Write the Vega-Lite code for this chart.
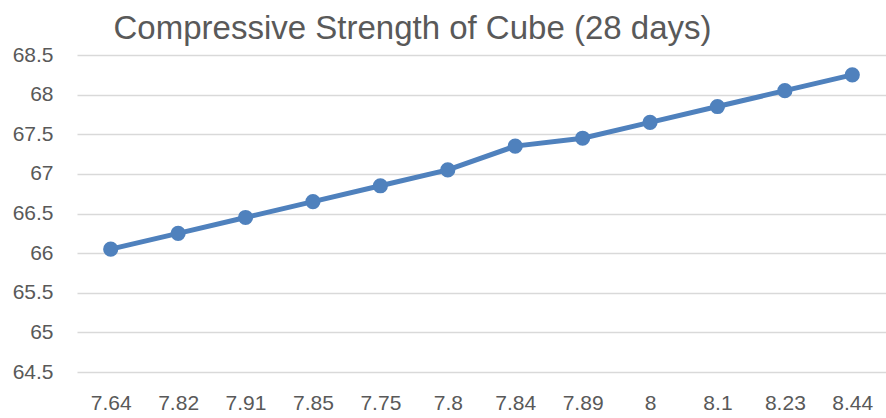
{
  "$schema": "https://vega.github.io/schema/vega-lite/v6.json",
  "autosize": "none",
  "width": 809,
  "height": 317,
  "padding": {"left": 77, "top": 55, "right": 0, "bottom": 46},
  "background": "white",
  "title": {
    "text": "Compressive Strength of Cube (28 days)",
    "font": "Liberation Sans",
    "fontSize": 33,
    "fontWeight": "normal",
    "color": "#595959",
    "anchor": "middle",
    "frame": "group",
    "dx": -69,
    "offset": -2
  },
  "config": {
    "view": {"stroke": null},
    "axis": {
      "labelFont": "Liberation Sans",
      "labelFontSize": 21,
      "labelColor": "#595959",
      "domain": false,
      "ticks": false,
      "title": null
    }
  },
  "data": {
    "values": [
      {"x": "7.64", "y": 66.05},
      {"x": "7.82", "y": 66.25},
      {"x": "7.91", "y": 66.45},
      {"x": "7.85", "y": 66.65},
      {"x": "7.75", "y": 66.85},
      {"x": "7.8", "y": 67.05},
      {"x": "7.84", "y": 67.35},
      {"x": "7.89", "y": 67.45},
      {"x": "8", "y": 67.65},
      {"x": "8.1", "y": 67.85},
      {"x": "8.23", "y": 68.05},
      {"x": "8.44", "y": 68.25}
    ]
  },
  "encoding": {
    "x": {
      "field": "x",
      "type": "ordinal",
      "sort": null,
      "scale": {"type": "point", "padding": 0.5},
      "axis": {"labelAngle": 0, "labelPadding": 20, "grid": false}
    },
    "y": {
      "field": "y",
      "type": "quantitative",
      "scale": {"domain": [64.5, 68.5], "zero": false, "nice": false},
      "axis": {
        "values": [64.5, 65, 65.5, 66, 66.5, 67, 67.5, 68, 68.5],
        "format": "~g",
        "grid": true,
        "gridColor": "#d9d9d9",
        "gridWidth": 1.5,
        "labelPadding": 24
      }
    }
  },
  "layer": [
    {"mark": {"type": "line", "color": "#4f81bd", "strokeWidth": 5}},
    {"mark": {"type": "point", "filled": true, "color": "#4f81bd", "opacity": 1, "size": 230}}
  ]
}
